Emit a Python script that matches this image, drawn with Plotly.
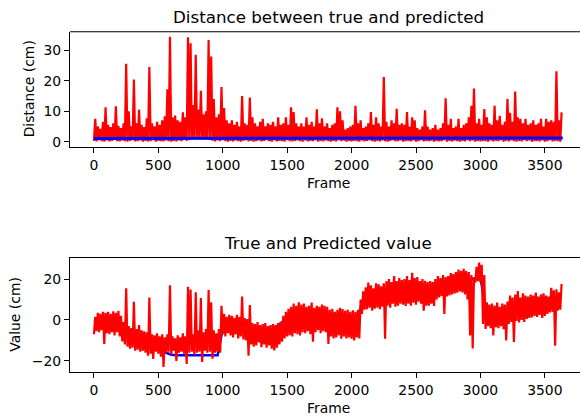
import plotly.graph_objects as go

# ---------------- data (20-frame bins) ----------------
BIN = 20
N_FRAMES = 3640

# Distance plot: per-bin upper and lower extremes of the red (error) trace
dist_hi = [
    7.5, 5.0, 4.2, 6.5, 11.3, 5.5, 4.8, 6.0, 11.6, 5.2,
    4.5, 6.0, 25.5, 10.0, 5.0, 20.4, 6.0, 10.5, 5.5, 4.8,
    7.7, 24.5, 6.0, 5.0, 6.5, 5.5, 7.0, 8.3, 17.2, 34.4,
    8.0, 8.6, 7.0, 6.5, 9.6, 8.0, 34.2, 32.2, 12.0, 28.5,
    10.5, 16.7, 9.0, 10.0, 33.3, 27.9, 14.0, 8.0, 9.0, 17.9,
    11.0, 7.0, 6.0, 7.0, 5.5, 6.5, 5.0, 15.0, 6.0, 5.5,
    14.5, 8.0, 6.0, 5.0, 6.5, 7.5, 5.0, 6.0, 5.5, 6.5,
    5.0, 8.0, 5.5, 6.0, 8.0, 5.5, 11.3, 9.7, 6.0, 5.0,
    6.0, 5.0, 8.0, 5.5, 6.5, 5.0, 10.6, 6.0, 7.7, 5.0,
    6.0, 4.5, 5.5, 6.0, 11.3, 10.0, 7.0, 4.0, 4.5, 5.0,
    5.5, 11.8, 6.0, 7.0, 4.5, 5.0, 6.0, 9.7, 5.5, 8.0,
    6.0, 5.0, 21.2, 6.5, 5.0, 7.0, 6.0, 10.8, 5.5, 6.0,
    5.5, 9.7, 5.0, 8.0, 7.0, 4.5, 4.0, 5.0, 10.3, 5.0,
    4.0, 4.5, 5.5, 4.0, 4.5, 6.0, 14.2, 5.5, 7.5, 4.5,
    5.0, 7.5, 4.5, 5.5, 6.0, 8.0, 11.8, 17.4, 6.0, 7.5,
    5.5, 10.7, 8.0, 6.0, 5.5, 11.8, 7.0, 8.5, 5.5, 6.5,
    14.0, 9.5, 6.5, 16.4, 8.0, 7.5, 6.0, 7.5, 5.5, 6.0,
    7.0, 5.5, 6.0, 7.5, 5.0, 7.5, 6.5, 7.0, 6.5, 23.1, 7.0, 9.6,
]
dist_lo = [
    0.3, 0.1, 0.5, 0.2, 0.0, 0.4, 0.1, 0.3, 0.6, 0.2,
    0.1, 0.4, 0.2, 0.0, 0.3, 0.5, 0.1, 0.2, 0.4, 0.0,
    0.3, 0.1, 0.2, 0.5, 0.0, 0.3, 0.2, 0.1, 0.4, 0.2,
    0.0, 0.3, 0.1, 0.4, 0.2, 0.6, 0.3, 0.5, 0.8, 1.0,
    1.4, 1.6, 1.2, 1.5, 1.0, 0.6, 0.3, 0.1, 0.4, 0.2,
    0.5, 0.2, 0.0, 0.3, 0.1, 0.4, 0.2, 0.0, 0.3, 0.5,
    0.1, 0.3, 0.0, 0.2, 0.4, 0.1, 0.3, 0.5, 0.2, 0.0,
    0.4, 0.1, 0.3, 0.2, 0.0, 0.5, 0.2, 0.1, 0.3, 0.4,
    0.2, 0.0, 0.4, 0.1, 0.3, 0.2, 0.5, 0.0, 0.3, 0.1,
    0.4, 0.2, 0.0, 0.3, 0.1, 0.5, 0.2, 0.4, 0.0, 0.3,
    0.1, 0.3, 0.2, 0.0, 0.4, 0.1, 0.3, 0.5, 0.2, 0.0,
    0.3, 0.1, 0.4, 0.2, 0.0, 0.3, 0.5, 0.1, 0.2, 0.4,
    0.0, 0.2, 0.3, 0.1, 0.4, 0.0, 0.2, 0.5, 0.1, 0.3,
    0.2, 0.4, 0.0, 0.3, 0.1, 0.2, 0.5, 0.0, 0.3, 0.1,
    0.4, 0.2, 0.0, 0.3, 0.1, 0.5, 0.2, 0.4, 0.0, 0.3,
    0.1, 0.3, 0.2, 0.0, 0.4, 0.1, 0.3, 0.2, 0.5, 0.0,
    0.3, 0.1, 0.4, 0.2, 0.0, 0.3, 0.1, 0.5, 0.2, 0.4,
    0.0, 0.2, 0.3, 0.1, 0.4, 0.0, 0.2, 0.5, 0.1, 0.3, 0.2, 0.0,
]
# Distance plot: blue reference line, one value per 200 frames
dist_ref_frames = [0, 200, 400, 600, 800, 1000, 1200, 1400, 1600, 1800,
                   2000, 2200, 2400, 2600, 2800, 3000, 3200, 3400, 3639]
dist_ref = [1.1, 1.1, 1.2, 1.2, 1.3, 1.3, 1.2, 1.2, 1.2, 1.2,
            1.2, 1.2, 1.2, 1.2, 1.2, 1.2, 1.2, 1.2, 1.2]

# Value plot: per-bin upper and lower extremes of the red (predicted) trace
pred_hi = [
    1.5, 3.5, 3.0, 4.0, 3.5, 4.0, 3.0, 4.3, 3.5, 4.5,
    2.0, -1.0, 15.5, -3.0, -4.0, 8.9, -4.5, -2.5, -5.0, -5.5,
    -6.0, 11.0, -7.0, -7.5, -6.5, -8.0, -7.0, -8.5, -7.0, 17.0,
    -8.0, -9.0, -7.5, -8.5, -6.5, -8.0, 16.2, 14.9, -7.0, 13.5,
    -5.0, 10.8, -6.0, -4.5, 14.7, 8.7, -5.0, -6.5, -4.5, 6.9,
    3.0, 1.5, 2.5, 2.0, 1.0, 2.5, 1.5, 11.5, 1.0, 0.5,
    7.3, -1.5, -2.0, -1.0, -2.5, -2.0, -1.5, -3.0, -2.5, -2.0,
    -2.5, -1.5, -1.0, 2.0, 4.0, 5.5, 6.5, 8.0, 7.0, 8.7,
    7.5, 8.0, 6.5, 7.0, 8.5, 6.0, 7.0, 6.5, 7.5, 7.0,
    6.5, 5.0, 5.5, 4.0, 5.0, 6.0, 5.4, 4.5, 5.0, 4.0,
    4.7, 4.0, 5.0, 10.0, 14.0, 16.0, 18.3, 17.0, 15.5, 18.0,
    17.5, 16.5, 18.0, 19.0, 20.0, 18.5, 21.5, 19.0, 20.5, 19.5,
    20.0, 21.5, 19.5, 23.1, 20.5, 21.0, 19.0, 20.0, 19.2, 18.5,
    19.0, 18.5, 20.0, 21.5, 20.5, 22.0, 21.0, 21.5, 23.0, 22.5,
    23.5, 24.7, 24.0, 25.0, 24.0, 23.5, 22.0, 21.0, 26.0, 28.1,
    27.0, 22.0, 8.7, 7.5, 8.0, 7.0, 8.5, 6.5, 8.0, 7.5,
    9.0, 12.0, 11.0, 12.5, 14.2, 11.0, 13.0, 12.0, 11.5, 12.5,
    12.0, 13.4, 11.5, 12.5, 13.0, 12.0, 11.5, 15.8, 14.5, 15.0, 13.5, 17.6,
]
pred_lo = [
    -7.0, -5.5, -6.0, -5.0, -11.7, -6.5, -7.0, -6.0, -7.5, -6.0,
    -8.0, -10.5, -12.0, -13.0, -14.0, -13.5, -15.0, -14.5, -15.5, -15.0,
    -16.0, -17.5, -16.5, -19.0, -15.5, -16.5, -18.0, -23.0, -16.0, -15.5,
    -17.0, -15.0, -20.0, -16.0, -15.5, -16.5, -21.5, -16.0, -15.5, -17.0,
    -16.0, -15.5, -20.5, -15.0, -16.0, -15.5, -19.0, -16.0, -15.5, -16.0,
    -7.0, -8.0, -6.5, -7.5, -8.5, -7.0, -9.0, -8.0, -9.5, -10.0,
    -17.5, -12.0, -13.0, -12.5, -11.0, -13.3, -12.0, -13.5, -12.5, -14.0,
    -14.9, -13.5, -12.0, -10.6, -9.0, -8.0, -7.5, -8.0, -6.5, -7.0,
    -7.6, -6.0, -6.5, -5.5, -7.0, -10.6, -6.0, -5.0, -6.5, -5.5,
    -6.0, -11.7, -8.0, -9.0, -8.5, -7.5, -9.2, -8.0, -9.0, -8.5,
    -9.2, -10.0, -8.5, -9.0, 3.0, 5.0, 5.3, 6.0, 4.5, 5.5,
    6.0, 5.3, 6.5, -9.2, 7.0, 6.0, 8.0, 6.5, 7.0, 8.0,
    7.5, 6.9, 8.0, 7.0, 8.5, 7.5, 9.0, 8.0, 4.5, 7.0,
    7.0, 8.0, 6.9, 10.0, 11.0, 11.8, 2.9, 11.5, 12.0, 12.5,
    13.0, 13.4, 14.0, 13.5, 12.5, 10.0, -7.6, -14.0, 18.3, 19.0,
    18.5, -2.0, -4.4, -3.0, -4.0, -7.6, -3.5, -4.0, -3.0, -4.5,
    -10.0, -2.0, -1.0, -10.7, -0.5, -1.2, 0.0, -1.0, 0.5, 1.0,
    1.2, 2.0, 1.5, 2.5, 1.0, 2.0, 3.0, 3.7, 4.0, -12.6, 4.5, 5.0,
]
# Value plot: blue true trace, one value per 40 frames
true_step = 40
true_val = [
    0, -1, -2, -2, -3,
    -4, -6, -8, -10, -11,
    -12, -13, -14, -15, -16,
    -17, -17.3, -17.3, -17.3, -17.3,
    -17.3, -17.3, -17.3, -17.3, -17.3,
    -4, -4, -5, -5, -5,
    -6, -6, -5.6, -5.6, -5.6,
    -4, -2, 0, 1, 1,
    1, 1.5, 1, 1, 1,
    1.1, 1.1, 1, 0, -1,
    -1, 0, 8, 10, 11,
    11.6, 12, 12.5, 12.9, 13,
    13, 13.5, 14, 14.5, 15,
    16, 16.5, 17, 17.5, 18,
    19, 19.5, 20, 20, 20,
    21, 5, 4.5, 4, 4,
    5, 6, 7, 7, 7.5,
    8, 8, 8.5, 9, 9,
    9,
]

x_ticks = [0, 500, 1000, 1500, 2000, 2500, 3000, 3500]
dist_ticks = [0, 10, 20, 30]
val_ticks = [-20, 0, 20]

# ---------------- build traces ----------------
def zigzag(lo, hi):
    xs, ys = [], []
    for i, (a, b) in enumerate(zip(lo, hi)):
        xs += [i * BIN, i * BIN + BIN // 2]
        ys += [a, b]
    return xs, ys

dx, dy = zigzag(dist_lo, dist_hi)
px_, py_ = zigzag(pred_lo, pred_hi)
tx = [i * true_step for i in range(len(true_val))]

RED = "#ff0000"
BLUE = "#0000ff"
LW = 2.2

fig = go.Figure()
fig.add_trace(go.Scatter(x=dx, y=dy, mode="lines", line=dict(color=RED, width=LW),
                         xaxis="x", yaxis="y", showlegend=False, hoverinfo="skip"))
fig.add_trace(go.Scatter(x=dist_ref_frames, y=dist_ref, mode="lines",
                         line=dict(color=BLUE, width=3),
                         xaxis="x", yaxis="y", showlegend=False, hoverinfo="skip"))
fig.add_trace(go.Scatter(x=tx, y=true_val, mode="lines", line=dict(color=BLUE, width=2.5),
                         xaxis="x2", yaxis="y2", showlegend=False, hoverinfo="skip"))
fig.add_trace(go.Scatter(x=px_, y=py_, mode="lines", line=dict(color=RED, width=LW),
                         xaxis="x2", yaxis="y2", showlegend=False, hoverinfo="skip"))

W, H = 580, 419
XL = 70 / W  # left edge of axes
top_dom = [1 - 148 / H, 1 - 32 / H]
bot_dom = [1 - 375 / H, 1 - 259.3 / H]

FONT = "DejaVu Sans"
TICKF = dict(family=FONT, size=13.9, color="#000000")

axis_common = dict(showline=True, linecolor="#000000", linewidth=1.1,
                   ticks="outside", ticklen=5, tickwidth=1.1, tickcolor="#000000",
                   showgrid=False, zeroline=False, tickfont=TICKF, mirror=False)

fig.update_layout(
    width=W, height=H,
    margin=dict(l=0, r=0, t=0, b=0),
    paper_bgcolor="white", plot_bgcolor="white",
    font=dict(family=FONT, color="#000000"),
    xaxis=dict(domain=[XL, 1], range=[-186, 3773], anchor="y",
               tickvals=x_ticks, **axis_common),
    yaxis=dict(domain=top_dom, range=[-1.7, 36.0], anchor="x",
               tickvals=dist_ticks, **axis_common),
    xaxis2=dict(domain=[XL, 1], range=[-186, 3773], anchor="y2",
                tickvals=x_ticks, **axis_common),
    yaxis2=dict(domain=bot_dom, range=[-25.6, 30.6], anchor="x2",
                tickvals=val_ticks, **axis_common),
)

# top spines (the right spine lies outside the cropped picture)
for dom in (top_dom, bot_dom):
    fig.add_shape(type="line", xref="paper", yref="paper", x0=XL, x1=1.05,
                  y0=dom[1], y1=dom[1], line=dict(color="#000000", width=1.1),
                  layer="above")

def ann(text, x, y, size, angle=0):
    fig.add_annotation(text=text, xref="paper", yref="paper",
                       x=x / W, y=1 - y / H, xanchor="center", yanchor="middle",
                       showarrow=False, textangle=angle,
                       font=dict(family=FONT, size=size, color="#000000"))

ann("Distance between true and predicted", 328, 17, 16.7)
ann("True and Predicted value", 328, 245, 16.7)
ann("Frame", 328, 184, 13.9)
ann("Frame", 328, 411, 13.9)
ann("Distance (cm)", 29, 90, 13.9, -90)
ann("Value (cm)", 15, 317, 13.9, -90)

fig.write_html("out.html")
